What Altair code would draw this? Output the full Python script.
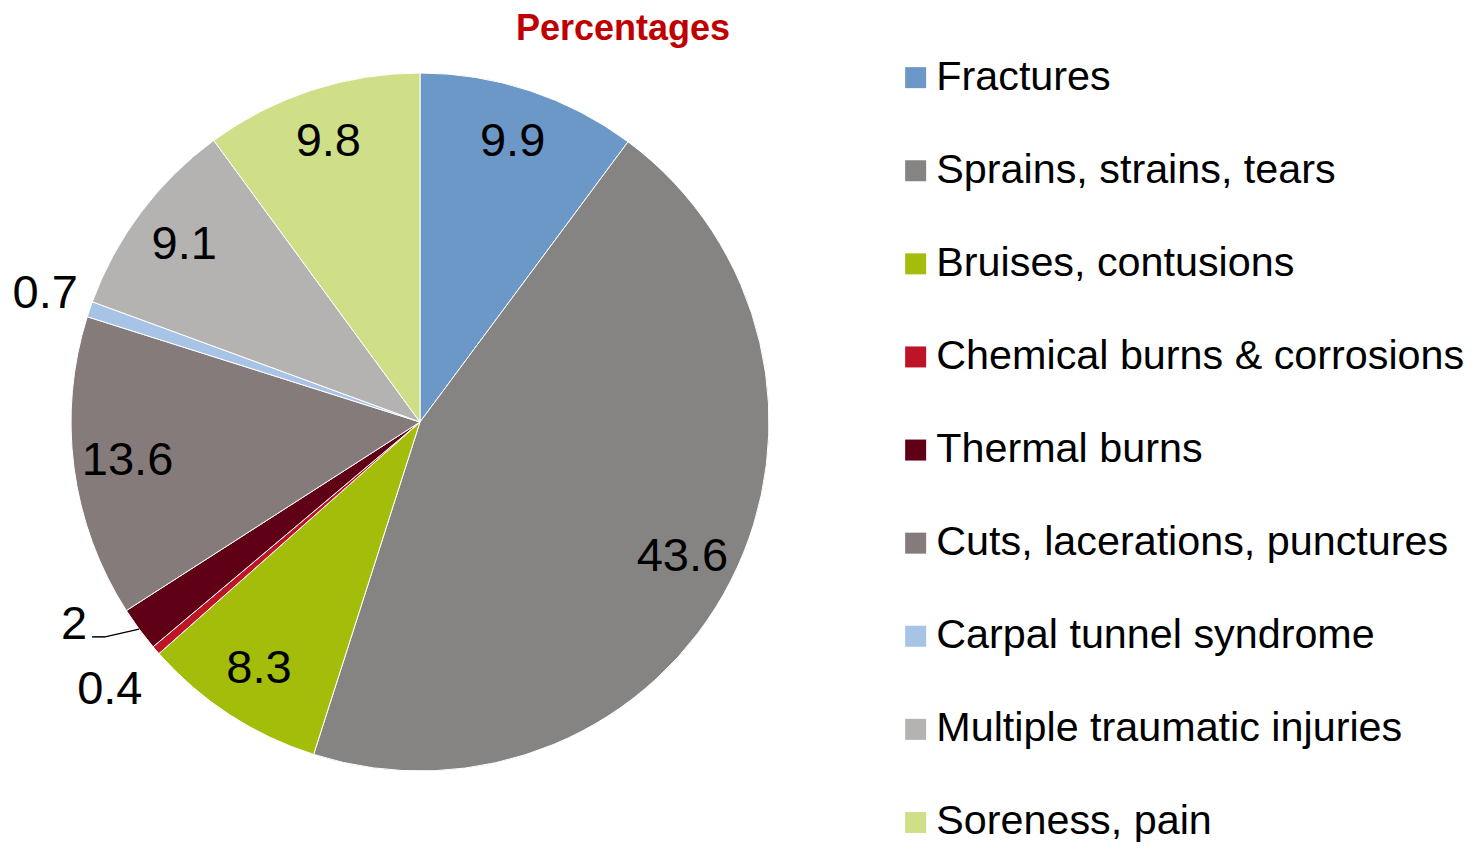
import altair as alt
import pandas as pd

categories = ["Fractures", "Sprains, strains, tears", "Bruises, contusions",
              "Chemical burns & corrosions", "Thermal burns",
              "Cuts, lacerations, punctures", "Carpal tunnel syndrome",
              "Multiple traumatic injuries", "Soreness, pain"]
values = [9.9, 43.6, 8.3, 0.4, 2, 13.6, 0.7, 9.1, 9.8]
colors = ["#6B98C7", "#858483", "#A4BD0A", "#BE1428", "#5F0016",
          "#857B7B", "#A7C3E5", "#B4B3B2", "#CFDF88"]
title_text = "Percentages"

df = pd.DataFrame({"category": categories, "value": values,
                   "idx": list(range(len(categories)))})

W, H = 1465, 836
CX, CY = 412, 414
R = 349
FONT = "Liberation Sans"
LABEL_SIZE = 47

base = alt.Chart(df).encode(
    theta=alt.Theta("value:Q", stack=True),
    order=alt.Order("idx:Q"),
    x=alt.value(CX),
    y=alt.value(CY),
)

color = alt.Color(
    "category:N",
    scale=alt.Scale(domain=categories, range=colors),
    sort=categories,
    legend=alt.Legend(
        title=None, orient="none", legendX=887, legendY=49,
        symbolType="square", symbolSize=441, symbolStrokeWidth=0,
        labelFontSize=41.3, labelFont=FONT, labelColor="#000000",
        labelLimit=700, rowPadding=51.1, labelOffset=0, padding=0,
        symbolOpacity=1,
    ),
)

arcs = base.mark_arc(outerRadius=R, stroke="white", strokeWidth=1).encode(color=color)

inside = base.mark_text(radius=295, fontSize=LABEL_SIZE, font=FONT, color="black").encode(
    text=alt.condition(alt.datum.value >= 5, alt.Text("value:Q"), alt.value("")),
)

out_chem = base.mark_text(radius=410, fontSize=LABEL_SIZE, font=FONT, color="black").encode(
    text=alt.condition(alt.datum.category == "Chemical burns & corrosions",
                       alt.Text("value:Q"), alt.value("")),
)

out_carpal = base.mark_text(radius=396, fontSize=LABEL_SIZE, font=FONT, color="black").encode(
    text=alt.condition(alt.datum.category == "Carpal tunnel syndrome",
                       alt.Text("value:Q"), alt.value("")),
)

out_thermal = base.mark_text(radius=401, thetaOffset=0.105, fontSize=LABEL_SIZE, font=FONT,
                             color="black").encode(
    text=alt.condition(alt.datum.category == "Thermal burns",
                       alt.Text("value:Q"), alt.value("")),
)

# leader line for the "Thermal burns" label
leader = alt.Chart(df).transform_window(
    cum="sum(value)", sort=[alt.SortField("idx")]
).transform_joinaggregate(total="sum(value)").transform_calculate(
    mid="(datum.cum - datum.value/2) / datum.total * 2 * PI",
).transform_filter(alt.datum.category == "Thermal burns").transform_calculate(
    px=f"{CX} + {R} * sin(datum.mid)",
    py=f"{CY} - {R} * cos(datum.mid)",
    lx=f"{CX} + 401 * sin(datum.mid + 0.105)",
    ly=f"{CY} - 401 * cos(datum.mid + 0.105)",
)
leader_a = leader.transform_calculate(
    ex="datum.lx + 31", ey="datum.ly + 12"
).mark_rule(color="black", strokeWidth=1.5).encode(
    x=alt.X("px:Q", scale=None), y=alt.Y("py:Q", scale=None),
    x2="ex:Q", y2="ey:Q",
)
leader_b = leader.transform_calculate(
    sx="datum.lx + 18", ex="datum.lx + 31", sy="datum.ly + 12"
).mark_rule(color="black", strokeWidth=1.5).encode(
    x=alt.X("sx:Q", scale=None), y=alt.Y("sy:Q", scale=None),
    x2="ex:Q", y2="sy:Q",
)

title = alt.Chart(pd.DataFrame({"t": [title_text]})).mark_text(
    fontSize=36, fontWeight="bold", font=FONT, color="#C00000", baseline="top"
).encode(x=alt.value(615), y=alt.value(4), text="t:N")

chart = alt.layer(arcs, inside, out_chem, out_carpal, out_thermal,
                  leader_a, leader_b, title).properties(
    width=W, height=H, padding=0, autosize=alt.AutoSizeParams(type="none")
).configure_view(stroke=None)

chart.save("out.html", embed_options={"renderer": "svg", "actions": False})
